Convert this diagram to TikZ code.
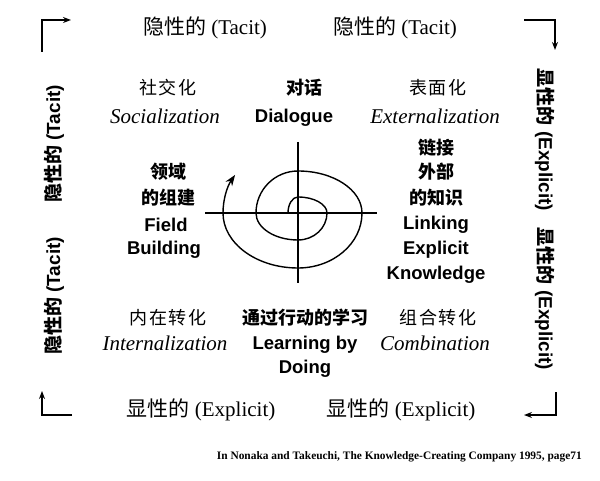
\documentclass[tikz,border=0pt]{standalone}
\usepackage{fontspec}
\setmainfont{Liberation Serif}
\setsansfont{Liberation Sans}
\newfontfamily\cjk{Noto Sans CJK SC}
\newfontfamily\cjksp[LetterSpace=8]{Noto Sans CJK SC}
\usetikzlibrary{arrows.meta}
\begin{document}
\begin{tikzpicture}[x=1pt,y=1pt,
  line/.style={line width=1.4pt},
  corner/.style={line width=1.5pt,-{Stealth[length=8pt,width=6pt]}},
  edge/.style={font=\fontsize{21}{23}\selectfont, inner sep=0pt},
  side/.style={font=\fontsize{19}{21}\selectfont\sffamily\bfseries, inner sep=0pt},
  zh/.style={font=\fontsize{18}{20}\selectfont\cjksp, inner sep=0pt},
  zhb/.style={font=\fontsize{18}{20}\selectfont\cjk\bfseries, inner sep=0pt},
  it/.style={font=\fontsize{21}{23}\selectfont\itshape, inner sep=0pt},
  bs/.style={font=\fontsize{18.5}{20}\selectfont\sffamily\bfseries, inner sep=0pt},
  cite/.style={font=\fontsize{11.4}{13}\selectfont\bfseries, inner sep=0pt}]
\useasboundingbox (0,0) rectangle (600,480);
% top and bottom labels
\node[edge] (t1) at (205,452) {{\cjk 隐性的} (Tacit)};
\node[edge] (t2) at (395,452) {{\cjk 隐性的} (Tacit)};
\node[edge] (b1) at (201,70) {{\cjk 显性的} (Explicit)};
\node[edge] (b2) at (401,70) {{\cjk 显性的} (Explicit)};
% side labels
\node[side,rotate=90] (l1) at (54,336) {{\cjk\bfseries 隐性的} (Tacit)};
\node[side,rotate=90] (l2) at (54,184) {{\cjk\bfseries 隐性的} (Tacit)};
\node[side,rotate=-90] (r1) at (545,340) {{\cjk\bfseries 显性的} (Explicit)};
\node[side,rotate=-90] (r2) at (545,181) {{\cjk\bfseries 显性的} (Explicit)};
% corner arrows
\coordinate (tla) at (42,428); \coordinate (tlb) at (42,460); \coordinate (tlc) at (71,460);
\coordinate (tra) at (524,460); \coordinate (trb) at (555,460); \coordinate (trc) at (555,430);
\coordinate (bra) at (556,88); \coordinate (brb) at (556,65); \coordinate (brc) at (524,65);
\coordinate (bla) at (72,65); \coordinate (blb) at (42,65); \coordinate (blc) at (42,89);
\draw[corner] (tla) -- (tlb) -- (tlc);
\draw[corner] (tra) -- (trb) -- (trc);
\draw[corner] (bra) -- (brb) -- (brc);
\draw[corner] (bla) -- (blb) -- (blc);
% quadrant labels
\node[zh] (soc1) at (168,392) {社交化};
\node[it] (soc2) at (165,364) {Socialization};
\node[zhb] (dia1) at (304,392) {对话};
\node[bs] (dia2) at (294,362) {Dialogue};
\node[zh] (ext1) at (438,392) {表面化};
\node[it] (ext2) at (435,364) {Externalization};
\node[zhb] (fb1) at (168,308) {领域};
\node[zhb] (fb2) at (168,282) {的组建};
\node[bs] (fb3) at (166,255) {Field};
\node[bs] (fb4) at (164,230) {Building};
\node[zhb] (lk1) at (436,332) {链接};
\node[zhb] (lk2) at (436,308) {外部};
\node[zhb] (lk3) at (436,282) {的知识};
\node[bs] (lk4) at (436,255) {Linking};
\node[bs] (lk5) at (436,230) {Explicit};
\node[bs] (lk6) at (436,205) {Knowledge};
\node[zh] (int1) at (168,162) {内在转化};
\node[it] (int2) at (165,137) {Internalization};
\node[zhb] (lbd1) at (305,162) {通过行动的学习};
\node[bs] (lbd2) at (305,135) {Learning by};
\node[bs] (lbd3) at (305,111) {Doing};
\node[zh] (com1) at (438,162) {组合转化};
\node[it] (com2) at (435,137) {Combination};
% citation
\node[cite,anchor=east] (cit) at (582,23) {In Nonaka and Takeuchi, The Knowledge-Creating Company 1995, page71};
% axes
\coordinate (hl) at (205,267); \coordinate (hr) at (377,267);
\coordinate (vt) at (298,338); \coordinate (vb) at (298,197);
\draw[line] (hl) -- (hr);
\draw[line] (vt) -- (vb);
% spiral
\coordinate (s0) at (288,267);
\draw[line,-{Stealth[length=11pt,width=8pt]}] (s0)
  arc[start angle=180,end angle=90,x radius=10,y radius=16]
  arc[start angle=90,end angle=0,x radius=29,y radius=16]
  arc[start angle=0,end angle=-90,x radius=29,y radius=27]
  arc[start angle=-90,end angle=-180,x radius=42,y radius=27]
  arc[start angle=180,end angle=90,x radius=42,y radius=42]
  arc[start angle=90,end angle=0,x radius=64,y radius=42]
  arc[start angle=0,end angle=-90,x radius=64,y radius=55]
  arc[start angle=-90,end angle=-180,x radius=75,y radius=55]
  arc[start angle=180,end angle=147,x radius=75,y radius=70];
\end{tikzpicture}
\end{document}
